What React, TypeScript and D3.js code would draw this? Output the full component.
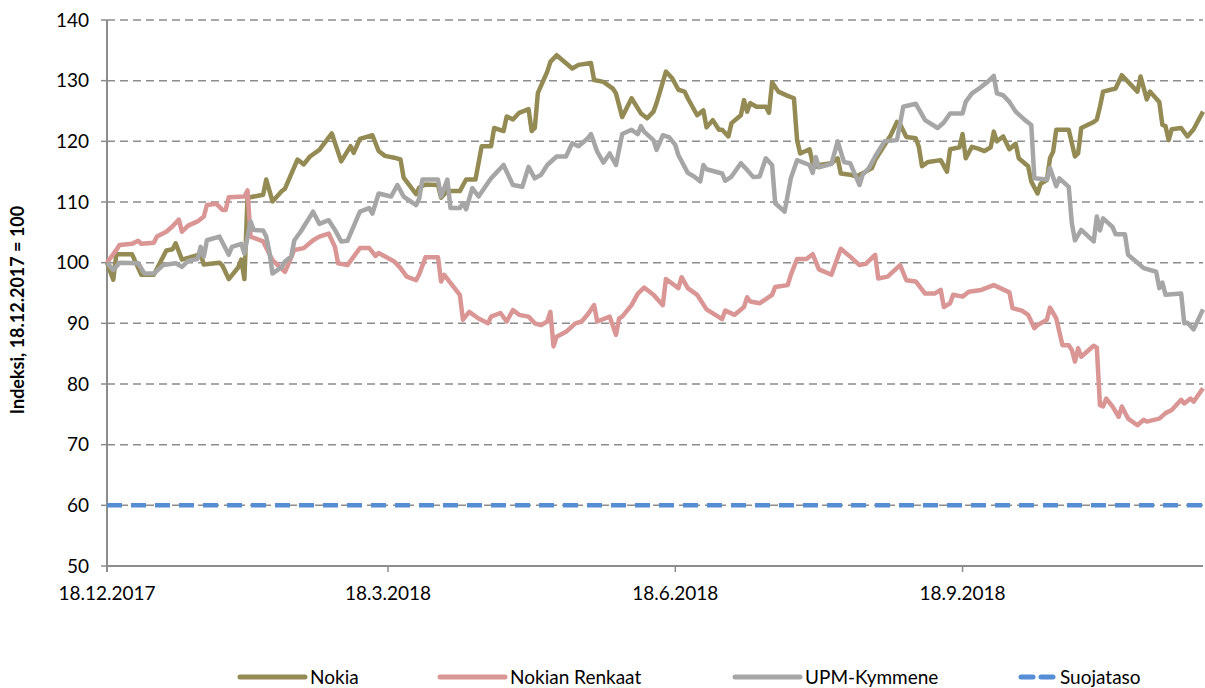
import React from "react";
import * as d3 from "d3";

// days counted from 18.12.2017, index value
const nokia: [number, number][] = [
  [0, 100], [2, 97.2], [3, 101.4], [8, 101.4], [11, 98], [15, 98], [19, 102], [21, 102.2], [22, 103.2], [24, 100.5],
  [26, 100.8], [30, 101.4], [31, 99.7], [36, 100], [37, 99.5], [39, 97.3], [42, 99.2], [43, 100.5], [44, 97.3], [45, 110.7],
  [48, 111], [50, 111.2], [51, 113.7], [53, 110.1], [56, 111.8], [57, 112.2], [61, 117], [63, 116.2], [65, 117.5], [68, 118.6],
  [72, 121.3], [75, 116.7], [78, 119.2], [79, 118.1], [81, 120.4], [85, 121], [87, 118.4], [89, 117.6], [92, 117.3], [94, 117],
  [95, 114], [99, 111.3], [100, 112.4], [102, 112.9], [106, 112.8], [107, 110.7], [109, 111.8], [113, 111.8], [115, 113.7], [118, 113.7],
  [120, 119.2], [123, 119.2], [124, 122.2], [127, 121.7], [128, 124.1], [130, 123.6], [132, 124.7], [135, 125.3], [136, 121.7], [137, 122.2],
  [138, 128], [141, 131.5], [142, 133.1], [144, 134.2], [149, 132], [151, 132.6], [155, 132.9], [156, 130.1], [159, 129.8], [162, 128.7],
  [163, 127.9], [165, 124], [168, 127.1], [171, 124.6], [173, 123.8], [175, 124.9], [176, 126.3], [179, 131.5], [181, 130.4], [183, 128.5],
  [185, 128.2], [186, 127.1], [189, 124.3], [191, 125.1], [192, 122.3], [194, 123.5], [196, 121.9], [197, 121.9], [199, 120.8], [200, 123],
  [203, 124.3], [204, 126.8], [205, 124.9], [206, 126.3], [208, 125.7], [211, 125.7], [212, 124.7], [213, 129.7], [215, 128.2], [218, 127.5],
  [220, 127.1], [221, 120.2], [222, 118], [225, 118.7], [226, 116.4], [227, 115.8], [228, 116.1], [232, 116.4], [234, 117.2], [235, 114.7],
  [238, 114.5], [240, 114.2], [241, 114.5], [243, 115], [245, 115.6], [246, 116.9], [249, 119.4], [251, 121], [253, 123.2], [254, 122.8],
  [256, 120.7], [259, 120.5], [260, 119.1], [261, 115.9], [263, 116.6], [267, 116.9], [269, 115], [270, 118.7], [273, 119], [274, 121.2],
  [275, 117.2], [277, 119.1], [279, 118.8], [281, 118.4], [283, 119], [284, 121.6], [285, 120], [287, 120.8], [289, 118.7], [291, 119.6],
  [292, 117.2], [295, 115.9], [296, 113.4], [298, 111.4], [299, 113], [301, 113.6], [302, 117.2], [303, 118.3], [304, 121.9], [308, 121.9],
  [310, 117.5], [311, 118], [312, 122.2], [316, 123.2], [317, 123.6], [318, 125.7], [319, 128.2], [323, 128.7], [325, 130.9], [330, 128.2],
  [331, 130.7], [333, 126.9], [334, 128.2], [337, 126.5], [338, 122.7], [339, 122.5], [340, 120.2], [341, 122], [344, 122.2], [346, 120.8],
  [348, 122], [351, 124.9],
];

const nokianRenkaat: [number, number][] = [
  [0, 100], [3, 102.1], [4, 102.9], [8, 103.1], [10, 103.6], [11, 103.1], [15, 103.3], [16, 104.3], [19, 105.1], [21, 106],
  [23, 107.1], [24, 105.1], [26, 106.1], [29, 106.8], [31, 107.6], [32, 109.5], [35, 109.7], [37, 108.7], [38, 108.7], [39, 110.8],
  [44, 110.9], [45, 111.9], [46, 104.3], [50, 103.5], [53, 100.4], [57, 98.5], [60, 102.1], [63, 102.4], [66, 103.7], [68, 104.3],
  [71, 104.8], [73, 102.6], [74, 99.9], [77, 99.6], [79, 101], [81, 102.4], [84, 102.4], [86, 101.1], [87, 101.6], [92, 100.2],
  [94, 99.1], [96, 97.7], [99, 97.1], [100, 98.1], [102, 100.9], [106, 100.9], [107, 96.9], [108, 98], [111, 96], [113, 94.7],
  [114, 90.6], [116, 91.9], [119, 90.8], [122, 90], [123, 91.1], [126, 91.7], [128, 90.3], [130, 92.2], [132, 91.4], [135, 91.1],
  [137, 90], [139, 89.7], [141, 90.3], [142, 91.9], [143, 86.2], [144, 87.8], [147, 88.6], [150, 90], [152, 90.3], [154, 91.5],
  [156, 93], [157, 90.3], [161, 91.1], [163, 88.1], [164, 90.8], [165, 91.1], [168, 93], [170, 94.9], [172, 95.9], [175, 94.7],
  [178, 93], [179, 97.3], [183, 95.8], [184, 97.6], [186, 95.8], [189, 94.7], [192, 92.3], [197, 90.7], [198, 92.1], [201, 91.4],
  [204, 92.7], [205, 94.3], [206, 93.6], [209, 93.3], [213, 94.7], [214, 96], [218, 96.3], [219, 98], [221, 100.6], [224, 100.6],
  [226, 101.4], [228, 98.9], [232, 98], [235, 102.3], [238, 101], [241, 99.6], [243, 99.8], [246, 101.3], [247, 97.4], [250, 97.7],
  [254, 99.6], [256, 97.1], [259, 96.9], [262, 94.9], [265, 94.9], [267, 95.5], [268, 92.7], [270, 93.3], [271, 94.7], [274, 94.4],
  [276, 95.2], [280, 95.5], [284, 96.3], [289, 95.1], [290, 92.5], [293, 92.1], [295, 91.4], [297, 89.2], [298, 89.7], [301, 90.6],
  [302, 92.6], [304, 90.8], [306, 86.4], [308, 86.4], [309, 85.6], [310, 83.7], [311, 85.9], [312, 84.5], [316, 86.3], [317, 86],
  [318, 76.5], [319, 76.3], [320, 77.6], [322, 76.3], [324, 74.6], [325, 76.3], [327, 74.3], [330, 73.2], [332, 74.1], [333, 73.8],
  [337, 74.3], [339, 75.2], [341, 75.7], [344, 77.4], [345, 76.8], [347, 77.6], [348, 77.1], [351, 79.3],
];

const upm: [number, number][] = [
  [0, 100], [2, 98.8], [4, 100], [10, 99.9], [12, 98.2], [15, 98.2], [18, 99.6], [22, 99.9], [24, 99.3], [26, 100.3],
  [29, 100.6], [30, 102.6], [31, 101], [32, 103.7], [36, 104.3], [39, 101.3], [40, 102.6], [43, 103.1], [44, 101.5], [46, 106.8],
  [47, 105.4], [50, 105.3], [51, 104.3], [52, 101.8], [53, 98.2], [56, 99.3], [57, 100.2], [59, 101], [60, 103.7], [62, 105.1],
  [66, 108.4], [68, 106.4], [71, 107], [73, 105.4], [75, 103.5], [77, 103.6], [81, 108.4], [84, 109], [85, 108.1], [87, 111.4],
  [91, 110.9], [93, 112.8], [95, 110.9], [99, 109.5], [100, 110.6], [101, 113.7], [106, 113.7], [107, 110.9], [109, 113.7], [110, 109],
  [113, 109], [114, 109.8], [115, 108.8], [117, 112.3], [119, 110.9], [123, 113.9], [127, 116.1], [130, 112.8], [133, 112.5], [135, 115.8],
  [137, 113.9], [139, 114.5], [141, 116.1], [144, 117.5], [147, 117.5], [149, 119.7], [151, 119.2], [154, 120.5], [155, 121.2], [157, 118.3],
  [159, 116.5], [161, 118], [163, 116.1], [165, 121.2], [168, 121.9], [170, 121.2], [171, 122.5], [172, 121.6], [175, 120.2], [176, 118.6],
  [178, 121], [180, 120.7], [182, 119.4], [183, 117.7], [186, 114.8], [188, 114.2], [190, 113.4], [191, 116.1], [192, 115.4], [197, 114.7],
  [198, 113.5], [200, 114.2], [203, 116.4], [205, 115.3], [207, 114.1], [209, 114.2], [211, 117.2], [213, 116.1], [214, 109.8], [217, 108.4],
  [219, 113.9], [221, 116.9], [225, 116.1], [226, 114.8], [227, 117.4], [228, 115.7], [232, 116.3], [234, 120], [236, 116.6], [238, 116.4],
  [241, 112.8], [242, 114.5], [244, 115.6], [246, 117.5], [249, 120], [253, 120.2], [255, 125.7], [259, 126.2], [262, 123.5], [266, 122.2],
  [268, 123.1], [270, 124.6], [274, 124.6], [275, 126.5], [277, 127.9], [279, 128.6], [282, 129.8], [284, 130.8], [285, 127.9], [287, 127.6],
  [289, 126.5], [291, 124.9], [294, 123.5], [296, 122.7], [297, 113.9], [301, 113.7], [302, 115.6], [304, 112.6], [305, 113.9], [308, 112.5],
  [309, 106.5], [310, 103.7], [312, 105.4], [316, 103.5], [317, 107.6], [318, 105.3], [319, 107.3], [322, 105.9], [323, 104.7], [326, 104.7],
  [327, 101.3], [330, 100], [332, 99.1], [336, 98.5], [337, 95.8], [338, 96.7], [339, 94.7], [344, 94.9], [345, 90], [346, 90.1],
  [348, 89], [351, 92.3],
];

const suojataso: [number, number][] = [[0, 60], [351, 60]];

const xTickDays = [0, 90, 182, 274];
const xTickLabels = ["18.12.2017", "18.3.2018", "18.6.2018", "18.9.2018"];
const yTicks = [50, 60, 70, 80, 90, 100, 110, 120, 130, 140];

const series = [
  { name: "Nokia", data: nokia, color: "#948A54", dash: "" },
  { name: "Nokian Renkaat", data: nokianRenkaat, color: "#D99694", dash: "" },
  { name: "UPM-Kymmene", data: upm, color: "#A6A6A6", dash: "" },
  { name: "Suojataso", data: suojataso, color: "#558ED5", dash: "15,9" },
];

const legendX = [240, 440, 735, 1020];

const App = () => {
  const width = 1205;
  const height = 688;
  const start = new Date(2017, 11, 18);
  const day = (d: number) => d3.timeDay.offset(start, d);

  const x = d3.scaleTime().domain([day(0), day(351)]).range([107, 1203]);
  const y = d3.scaleLinear().domain([50, 140]).range([566, 20]);

  const line = d3.line<[number, number]>()
    .x(d => x(day(d[0])))
    .y(d => y(d[1]));

  const font = "Lato, 'Open Sans', sans-serif";

  return (
    <svg width={width} height={height} style={{ position: "absolute", left: 0, top: 0, background: "#fff" }} fontFamily={font}>
      {/* grid */}
      {yTicks.filter(t => t > 50).map(t => (
        <line key={t} x1={107} x2={1203} y1={y(t)} y2={y(t)} stroke="#8c8c8c" strokeWidth={1.5} strokeDasharray="8,5" />
      ))}
      {/* y axis */}
      <line x1={107} x2={107} y1={20} y2={572} stroke="#8c8c8c" strokeWidth={2} />
      {yTicks.map(t => (
        <g key={t}>
          <line x1={101} x2={107} y1={y(t)} y2={y(t)} stroke="#8c8c8c" strokeWidth={1.5} />
          <text x={89} y={y(t)} dy="0.35em" textAnchor="end" fontSize={19} fill="#000">{t}</text>
        </g>
      ))}
      {/* x axis */}
      <line x1={107} x2={1203} y1={566} y2={566} stroke="#8c8c8c" strokeWidth={2} />
      {xTickDays.map((d, i) => (
        <g key={d} transform={`translate(${x(day(d))},566)`}>
          <line y1={0} y2={6} stroke="#8c8c8c" strokeWidth={1.5} />
          <text y={34} textAnchor="middle" fontSize={19} fill="#000">{xTickLabels[i]}</text>
        </g>
      ))}
      <text transform="translate(24,310) rotate(-90)" textAnchor="middle" fontSize={18} fontWeight="bold" fill="#000">
        Indeksi, 18.12.2017 = 100
      </text>

      {series.map(s => (
        <path key={s.name} d={line(s.data) || ""} fill="none" stroke={s.color} strokeWidth={4.5}
          strokeDasharray={s.dash || undefined} strokeLinejoin="round" />
      ))}

      {/* legend */}
      {series.map((s, i) => (
        <g key={s.name} transform={`translate(${legendX[i]},677)`}>
          {s.dash
            ? (<g>
                <line x1={1} x2={13} y1={0} y2={0} stroke={s.color} strokeWidth={5} strokeLinecap="round" />
                <line x1={21} x2={33} y1={0} y2={0} stroke={s.color} strokeWidth={5} strokeLinecap="round" />
              </g>)
            : <line x1={0} x2={65} y1={0} y2={0} stroke={s.color} strokeWidth={5} strokeLinecap="round" />}
          <text x={s.dash ? 40 : 70} y={0} dy="0.35em" fontSize={19} fill="#000">{s.name}</text>
        </g>
      ))}
    </svg>
  );
};

export default App;
